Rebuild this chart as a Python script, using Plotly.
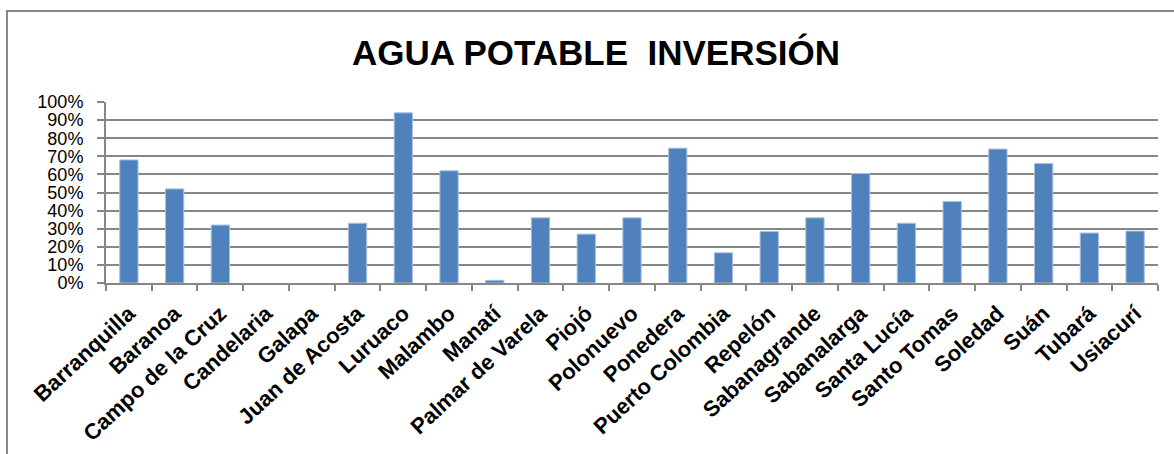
import plotly.graph_objects as go

municipios = ["Barranquilla", "Baranoa", "Campo de la Cruz", "Candelaria", "Galapa",
              "Juan de Acosta", "Luruaco", "Malambo", "Manatí", "Palmar de Varela",
              "Piojó", "Polonuevo", "Ponedera", "Puerto Colombia", "Repelón",
              "Sabanagrande", "Sabanalarga", "Santa Lucía", "Santo Tomas", "Soledad",
              "Suán", "Tubará", "Usiacurí"]
inversion = [0.68, 0.52, 0.32, 0.0, 0.0,
             0.33, 0.94, 0.62, 0.015, 0.36,
             0.27, 0.36, 0.745, 0.167, 0.285,
             0.36, 0.605, 0.33, 0.45, 0.74,
             0.66, 0.276, 0.287]
y_ticks = [0, 0.1, 0.2, 0.3, 0.4, 0.5, 0.6, 0.7, 0.8, 0.9, 1.0]
titulo = "AGUA POTABLE  INVERSIÓN"

W, H = 1174, 454
L, R, T, B = 106, 16, 102, 171

fig = go.Figure()
fig.add_trace(go.Bar(
    x=municipios, y=inversion,
    marker=dict(color="#4F81BD",
                line=dict(color="#a9c0df", width=[0 if v == 0 else 1 for v in inversion])),
))

pw = W - L - R
ph = H - T - B
def px_x(x):
    return (x - L) / pw
def px_y(y):
    return (H - B - y) / ph

fig.add_shape(type="rect", xref="paper", yref="paper",
              x0=px_x(7), x1=px_x(1190), y0=px_y(11), y1=px_y(470),
              line=dict(color="#888888", width=2), fillcolor="rgba(0,0,0,0)", layer="below")

fig.update_layout(
    width=W, height=H,
    margin=dict(l=L, r=R, t=T, b=B, autoexpand=False),
    paper_bgcolor="white", plot_bgcolor="white",
    bargap=0.6,
    showlegend=False,
    title=dict(text=titulo, xref="container", yref="container",
               x=596 / W, xanchor="center", y=1 - 53 / H, yanchor="middle",
               font=dict(family="Liberation Sans, Arial", size=35, color="black", weight="bold")),
    font=dict(family="Liberation Sans, Arial", color="black"),
)
fig.update_xaxes(
    type="category", tickangle=-43, automargin=False,
    tickfont=dict(size=22, weight="bold", color="black"),
    showline=True, linecolor="#868686", linewidth=2,
    ticks="outside", tickson="boundaries", ticklen=6, tickcolor="#868686", tickwidth=2,
    showgrid=False, ticklabelstandoff=7,
)
fig.update_yaxes(
    range=[0, 1], tickvals=y_ticks, tickformat=".0%", automargin=False,
    tickfont=dict(size=18, color="black"),
    showline=True, linecolor="#868686", linewidth=2,
    ticks="outside", ticklen=7, tickcolor="#868686", tickwidth=2,
    showgrid=True, gridcolor="#868686", gridwidth=2,
    zeroline=False, ticklabelstandoff=10,
)
fig.write_html("out.html", config={"displayModeBar": False},
               post_script="document.body.style.margin='0';")
